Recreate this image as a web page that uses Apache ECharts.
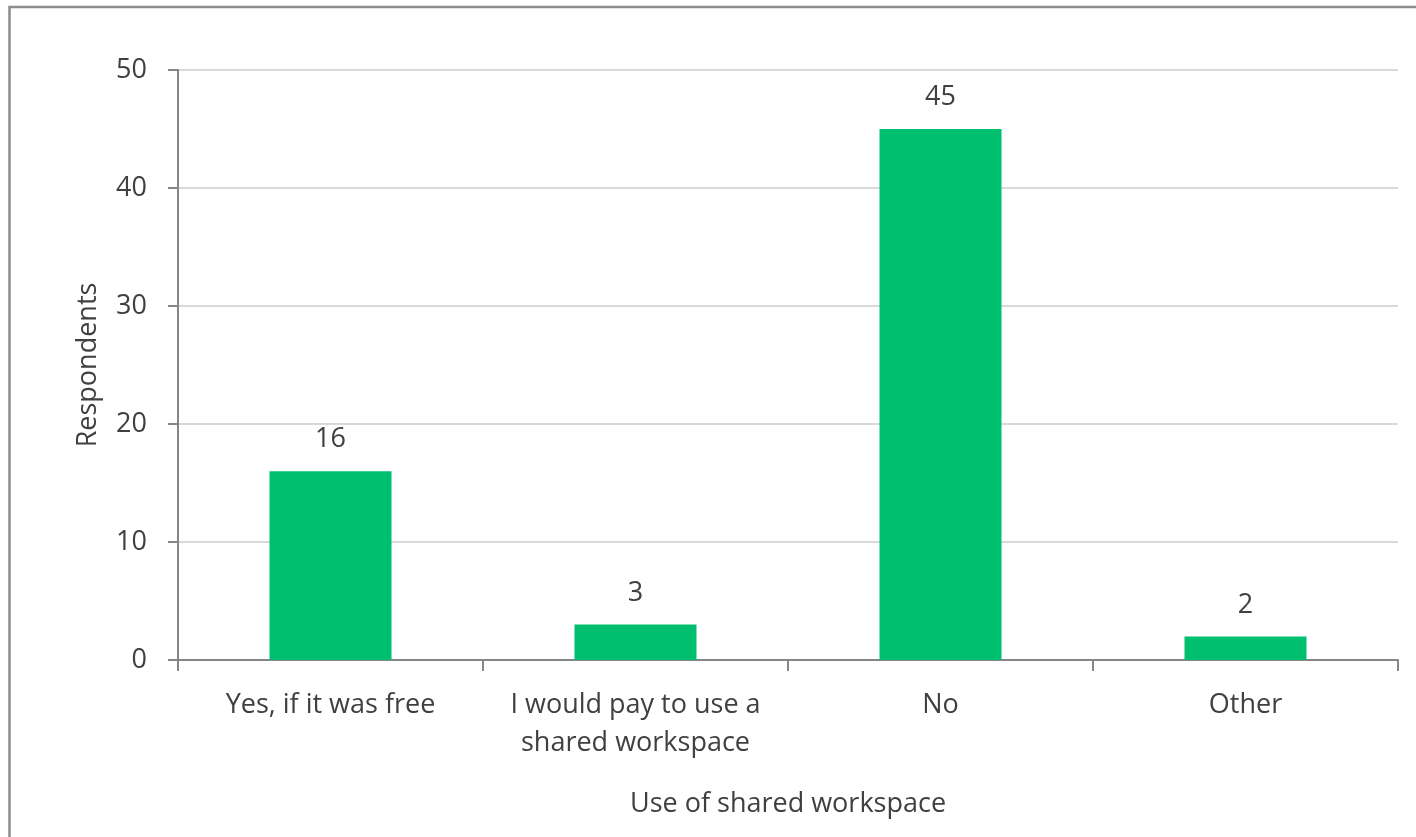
<!DOCTYPE html>
<html>
<head>
<meta charset="utf-8">
<style>
html,body{margin:0;padding:0;background:#fff;}
#c{width:1416px;height:837px;}
</style>
<script src="https://cdn.jsdelivr.net/npm/echarts@6/dist/echarts.min.js"></script>
</head>
<body>
<div id="c"></div>
<script>
const categories = ["Yes, if it was free", "I would pay to use a\nshared workspace", "No", "Other"];
const respondents = [16, 3, 45, 2];
const yTicks = [0, 10, 20, 30, 40, 50];

const FONT = '"Open Sans", sans-serif';
const FS = 27;
const TXT = '#404040';
const chart = echarts.init(document.getElementById('c'));
chart.setOption({
  animation: false,
  backgroundColor: '#fff',
  graphic: [{
    type: 'rect', x: 0, y: 0,
    shape: {x: 9.5, y: 7, width: 1500, height: 1000},
    style: {fill: 'none', stroke: '#8c8c8c', lineWidth: 2.5}, silent: true
  }],
  grid: {left: 178, right: 18, top: 70, bottom: 177},
  xAxis: {
    type: 'category', data: categories,
    name: 'Use of shared workspace', nameLocation: 'middle', nameGap: 131,
    nameTextStyle: {fontFamily: FONT, fontSize: FS, color: TXT},
    axisLine: {lineStyle: {color: '#868686', width: 2}},
    axisTick: {show: true, interval: 0, alignWithLabel: false, length: 11, lineStyle: {color: '#868686', width: 2}},
    axisLabel: {interval: 0, fontFamily: FONT, fontSize: FS, color: TXT, margin: 26, lineHeight: 38, verticalAlign: 'top'}
  },
  yAxis: {
    type: 'value', min: yTicks[0], max: yTicks[yTicks.length - 1], interval: 10,
    name: 'Respondents', nameLocation: 'middle', nameGap: 76, nameRotate: 90,
    nameTextStyle: {fontFamily: FONT, fontSize: FS, color: TXT},
    axisLine: {show: true, lineStyle: {color: '#868686', width: 2}},
    axisTick: {show: true, length: 10, lineStyle: {color: '#868686', width: 2}},
    axisLabel: {fontFamily: FONT, fontSize: FS, color: TXT, margin: 31},
    splitLine: {lineStyle: {color: '#d9d9d9', width: 2}}
  },
  series: [{
    type: 'bar', data: respondents, barWidth: '40%',
    itemStyle: {color: '#00BF6F'},
    label: {show: true, position: 'top', distance: 18, fontFamily: FONT, fontSize: FS, color: TXT}
  }]
});
</script>
</body>
</html>
